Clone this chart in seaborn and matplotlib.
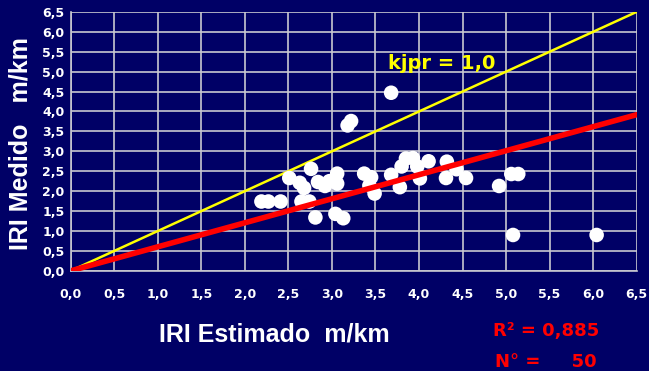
import numpy as np
import pandas as pd
import matplotlib
matplotlib.use("Agg")
import matplotlib.pyplot as plt
import seaborn as sns

# Measured vs. estimated IRI (m/km)
iri_estimado = [2.19, 2.27, 2.41, 2.51, 2.63, 2.68, 2.76, 2.65, 2.74, 2.81,
                2.84, 2.92, 2.97, 3.06, 3.06, 3.04, 3.13, 3.18, 3.22, 3.68,
                3.37, 3.45, 3.43, 3.49, 3.68, 3.80, 3.78, 3.85, 3.93, 3.98,
                4.01, 4.11, 4.31, 4.32, 4.43, 4.54, 4.92, 5.06, 5.14, 5.08,
                6.04]
iri_medido = [1.74, 1.74, 1.74, 2.33, 2.21, 2.08, 2.56, 1.74, 1.74, 1.34,
              2.23, 2.13, 2.25, 2.44, 2.19, 1.43, 1.32, 3.65, 3.76, 4.47,
              2.44, 2.35, 2.14, 1.94, 2.41, 2.62, 2.10, 2.82, 2.83, 2.62,
              2.32, 2.75, 2.33, 2.74, 2.55, 2.33, 2.13, 2.43, 2.43, 0.90,
              0.90]

# Reference lines: kjpr = 1.0 and fitted line
line_x = [0.0, 6.5]
kjpr = 1.0
fit_slope = 0.603
r2_text = "R² = 0,885"
n_text = "N° =     50"

ticks = np.arange(0, 6.51, 0.5)
tick_labels = [f"{t:.1f}".replace(".", ",") for t in ticks]

navy = "#000066"
grid_col = "#c8c8d0"
sns.set_theme(style="dark")
plt.rcParams["font.family"] = ["DejaVu Sans"]
plt.rcParams["font.weight"] = "bold"
title_font = ["Liberation Sans", "DejaVu Sans"]

fig = plt.figure(figsize=(6.49, 3.71), dpi=100, facecolor=navy)
ax = fig.add_axes([0.109, 0.270, 0.872, 0.698])
ax.set_facecolor(navy)

df_pts = pd.DataFrame({"est": iri_estimado, "med": iri_medido})
df_yel = pd.DataFrame({"x": line_x, "y": [kjpr * v for v in line_x]})
df_red = pd.DataFrame({"x": line_x, "y": [fit_slope * v for v in line_x]})

sns.lineplot(data=df_yel, x="x", y="y", ax=ax, color="#ffff00", lw=1.8, zorder=3)
sns.scatterplot(data=df_pts, x="est", y="med", ax=ax, color="white", s=110,
                edgecolor="none", zorder=4)
sns.lineplot(data=df_red, x="x", y="y", ax=ax, color="#ff0000", lw=4.0, zorder=5)

ax.set_xlim(0, 6.5)
ax.set_ylim(0, 6.5)
ax.set_xticks(ticks)
ax.set_yticks(ticks)
ax.set_xticklabels(tick_labels, color="white", fontsize=9, fontweight="bold")
ax.set_yticklabels(tick_labels, color="white", fontsize=9, fontweight="bold")
ax.tick_params(axis="both", length=0)
ax.tick_params(axis="x", pad=12.5)
ax.tick_params(axis="y", pad=4.5)
ax.grid(True, color=grid_col, lw=1.2)
ax.set_axisbelow(True)
for side, sp in ax.spines.items():
    sp.set_visible(side in ("left", "bottom"))
    sp.set_color(grid_col)
    sp.set_linewidth(1.2)

ax.set_xlabel("")
ax.set_ylabel("")
fig.text(0.422, 0.098, "IRI Estimado  m/km", color="white", fontsize=18,
         fontweight="bold", ha="center", va="center", family=title_font)
fig.text(0.031, 0.613, "IRI Medido   m/km", color="white", fontsize=18,
         fontweight="bold", ha="center", va="center", rotation=90,
         family=title_font)
fig.text(0.760, 0.0943, r2_text, color="#ff0000", fontsize=13,
         fontweight="bold", ha="left", va="baseline")
fig.text(0.763, 0.0108, n_text, color="#ff0000", fontsize=13,
         fontweight="bold", ha="left", va="baseline")
ax.text(3.64, 5.06, "kjpr = 1,0", color="#ffff00", fontsize=14,
        fontweight="bold", ha="left", va="baseline")

fig.savefig("out.png", dpi=100, facecolor=navy)
